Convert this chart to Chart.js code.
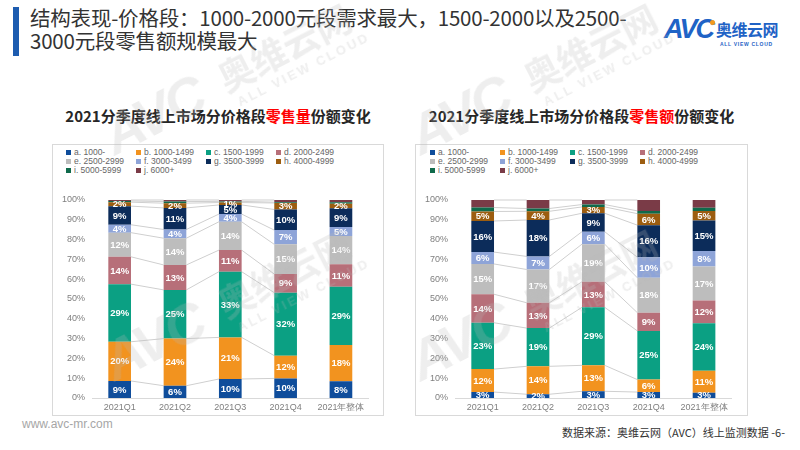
<!DOCTYPE html>
<html lang="zh">
<head>
<meta charset="UTF-8">
<title>结构表现-价格段</title>
<script src="https://cdn.jsdelivr.net/npm/chart.js"></script>
<style>
  body { margin:0; width:800px; height:450px; position:relative; overflow:hidden; background:#fff;
         font-family:'Noto Sans CJK SC', sans-serif; }
  .side { position:absolute; left:13px; top:7px; width:6px; height:49px; background:#1d5cb0; }
  h1 { position:absolute; left:30px; top:6px; margin:0; width:660px; font-size:20.5px; font-weight:normal;
       line-height:23px; color:#333; letter-spacing:-0.2px; }
  .logo { position:absolute; left:664px; top:14px; width:124px; height:38px; }
  .logo .avc { position:absolute; left:0; top:0; font:italic bold 27px 'Liberation Sans', Arial; color:#1f63c6; letter-spacing:-2px; }
  .logo .dot { position:absolute; left:46px; top:6px; width:5px; height:5px; border-radius:3px; background:#f39a1e; }
  .logo .cn { position:absolute; left:52px; top:3px; font-size:16px; font-weight:bold; color:#1f63c6; letter-spacing:-0.5px; }
  .logo .en { position:absolute; left:56px; top:27px; font:bold 5px 'Liberation Sans', Arial; color:#1f63c6; letter-spacing:0.7px; }
  .ctitle { position:absolute; top:105px; font-size:15px; font-weight:bold; color:#262626; text-align:center; white-space:nowrap; }
  .ctitle span { color:#f00; }
  .box { position:absolute; top:144px; height:272px; border:1px solid #d9d9d9; box-sizing:border-box; }
  .legend { position:absolute; top:148px; display:grid; grid-template-columns:repeat(4, 70px);
            font:8.5px 'Liberation Sans', Arial; color:#666; line-height:9px; }
  .legend div { white-space:nowrap; }
  .legend i { display:inline-block; width:5px; height:5px; margin-right:3px; vertical-align:0px; }
  canvas { position:absolute; top:144px; }
  .wm { position:absolute; height:52px; white-space:nowrap; transform:rotate(-27deg); transform-origin:0 100%;
        color:rgba(185,185,185,0.24); z-index:5; pointer-events:none; }
  .wm .a { position:absolute; left:0; top:0; font:italic bold 56px/52px 'Liberation Sans', Arial; letter-spacing:-3px; }
  .wm .c { position:absolute; left:128px; top:4px; font:bold 36px/40px 'Noto Sans CJK SC', sans-serif; }
  .wm .e { position:absolute; left:134px; top:46px; font:bold 13px 'Liberation Sans', Arial; letter-spacing:2.5px; }
  .web { position:absolute; left:22px; top:417px; font:12px 'Liberation Sans', Arial; color:#a6a6a6; }
  .src { position:absolute; right:15px; top:424px; font-size:11px; color:#333; }
</style>
</head>
<body>
<div class="side"></div>
<h1>结构表现-价格段：1000-2000元段需求最大，1500-2000以及2500-<br>3000元段零售额规模最大</h1>
<div class="logo"><div class="avc">AVC</div><div class="dot"></div><div class="cn">奥维云网</div><div class="en">ALL VIEW CLOUD</div></div>

<div class="ctitle" style="left:52px;width:332px;">2021分季度线上市场分价格段<span>零售量</span>份额变化</div>
<div class="ctitle" style="left:415px;width:333px;">2021分季度线上市场分价格段<span>零售额</span>份额变化</div>

<div class="box" style="left:52px;width:332px;"></div>
<div class="box" style="left:415px;width:333px;"></div>
<div class="legend" id="legQty" style="left:66px;"></div>
<div class="legend" id="legAmt" style="left:430px;"></div>
<canvas id="chartQty" width="332" height="273" style="left:52px;"></canvas>
<canvas id="chartAmt" width="333" height="273" style="left:415px;"></canvas>

<div class="wm" style="left:118px;top:110px;"><div class="a">AVC</div><div class="c">奥维云网</div><div class="e">ALL VIEW CLOUD</div></div>
<div class="wm" style="left:424px;top:110px;"><div class="a">AVC</div><div class="c">奥维云网</div><div class="e">ALL VIEW CLOUD</div></div>
<div class="wm" style="left:118px;top:336px;"><div class="a">AVC</div><div class="c">奥维云网</div><div class="e">ALL VIEW CLOUD</div></div>
<div class="wm" style="left:424px;top:336px;"><div class="a">AVC</div><div class="c">奥维云网</div><div class="e">ALL VIEW CLOUD</div></div>

<div class="web">www.avc-mr.com</div>
<div class="src">数据来源：奥维云网（AVC）线上监测数据 -6-</div>

<script>
  const categories = ['2021Q1', '2021Q2', '2021Q3', '2021Q4', '2021年整体'];
  const segments = ['a. 1000-', 'b. 1000-1499', 'c. 1500-1999', 'd. 2000-2499', 'e. 2500-2999',
                    'f. 3000-3499', 'g. 3500-3999', 'h. 4000-4999', 'i. 5000-5999', 'j. 6000+'];
  const colors = ['#0f4d9b', '#f2931f', '#0ba083', '#b76f79', '#bdbdbd',
                  '#8ea4d8', '#0c2c5a', '#9c5d10', '#0f6a4b', '#7a3b47'];

  // 零售量份额 (%)
  const qtyA = [8.6, 6.2, 9.6, 9.9, 8.4];
  const qtyB = [19.8, 23.8, 21.0, 11.5, 18.4];
  const qtyC = [29.1, 24.6, 33.2, 31.8, 29.4];
  const qtyD = [13.8, 12.6, 10.9, 9.4, 11.4];
  const qtyE = [12.2, 13.5, 14.3, 15.0, 14.2];
  const qtyF = [4.0, 4.4, 3.9, 7.2, 4.6];
  const qtyG = [9.4, 10.9, 4.6, 10.4, 9.4];
  const qtyH = [2.0, 2.4, 1.2, 3.3, 2.3];
  const qtyI = [0.6, 0.8, 0.6, 0.4, 0.8];
  const qtyJ = [0.5, 0.8, 0.7, 1.1, 1.1];

  // 零售额份额 (%)
  const amtA = [3.0, 1.9, 3.4, 3.0, 2.7];
  const amtB = [11.6, 14.1, 13.1, 6.3, 11.0];
  const amtC = [23.4, 19.3, 29.3, 24.6, 24.0];
  const amtD = [14.4, 12.8, 12.9, 9.2, 11.6];
  const amtE = [15.3, 16.8, 19.0, 17.6, 17.1];
  const amtF = [6.0, 6.6, 6.3, 10.4, 7.9];
  const amtG = [15.7, 18.4, 9.3, 16.2, 15.4];
  const amtH = [4.8, 4.4, 3.2, 5.8, 4.8];
  const amtI = [2.0, 1.4, 1.2, 1.4, 1.6];
  const amtJ = [3.8, 4.3, 2.3, 5.5, 3.9];

  const yTicks = [0, 10, 20, 30, 40, 50, 60, 70, 80, 90, 100];
  const labelledSeries = 8; // a..h get value labels

  // grey series lines between Q1..Q4
  const seriesLines = {
    id: 'seriesLines',
    beforeDatasetsDraw(chart) {
      const ctx = chart.ctx;
      ctx.save();
      ctx.strokeStyle = '#cfcfcf';
      ctx.lineWidth = 1;
      chart.data.datasets.forEach((ds, di) => {
        const pts = chart.getDatasetMeta(di).data;
        for (let i = 0; i < pts.length - 2; i++) {
          const a = pts[i], b = pts[i + 1];
          ctx.beginPath();
          ctx.moveTo(a.x + a.width / 2, a.y);
          ctx.lineTo(b.x - b.width / 2, b.y);
          ctx.stroke();
        }
      });
      ctx.restore();
    }
  };

  const segLabels = {
    id: 'segLabels',
    afterDatasetsDraw(chart) {
      const ctx = chart.ctx;
      ctx.save();
      ctx.font = 'bold 9.5px "Liberation Sans", Arial';
      ctx.fillStyle = '#fff';
      ctx.textAlign = 'center';
      ctx.textBaseline = 'middle';
      chart.data.datasets.forEach((ds, di) => {
        if (di >= labelledSeries) return;
        chart.getDatasetMeta(di).data.forEach((el, i) => {
          ctx.fillText(Math.round(ds.data[i]) + '%', el.x, (el.y + el.base) / 2 + 0.5);
        });
      });
      ctx.restore();
    }
  };

  function makeChart(id, series, padRight) {
    new Chart(document.getElementById(id), {
      type: 'bar',
      data: {
        labels: categories,
        datasets: series.map((d, i) => ({
          label: segments[i],
          data: d,
          backgroundColor: colors[i],
          categoryPercentage: 1,
          barPercentage: 0.41
        }))
      },
      options: {
        responsive: false,
        animation: false,
        layout: { padding: { top: 56, right: padRight, left: 0, bottom: 0 } },
        plugins: { legend: { display: false }, tooltip: { enabled: false } },
        scales: {
          x: {
            stacked: true,
            grid: { display: false, drawTicks: false },
            border: { color: '#d9d9d9' },
            ticks: { color: '#7f7f7f', font: { size: 9, family: 'Liberation Sans' }, padding: 4 },
            afterFit(s) { s.height = 19; }
          },
          y: {
            stacked: true,
            min: 0, max: 100,
            afterBuildTicks(s) { s.ticks = yTicks.map(v => ({ value: v })); },
            ticks: { color: '#7f7f7f', font: { size: 9, family: 'Liberation Sans' }, padding: 7,
                     callback: v => v + '%' },
            grid: { display: false, drawTicks: false },
            border: { display: false },
            afterFit(s) { s.width = 40; }
          }
        }
      },
      plugins: [seriesLines, segLabels]
    });
  }

  function makeLegend(id) {
    const el = document.getElementById(id);
    segments.forEach((s, i) => {
      el.innerHTML += `<div><i style="background:${colors[i]}"></i>${s}</div>`;
    });
  }

  makeLegend('legQty');
  makeLegend('legAmt');
  makeChart('chartQty', [qtyA, qtyB, qtyC, qtyD, qtyE, qtyF, qtyG, qtyH, qtyI, qtyJ], 15.4);
  makeChart('chartAmt', [amtA, amtB, amtC, amtD, amtE, amtF, amtG, amtH, amtI, amtJ], 16.3);
</script>
</body>
</html>
